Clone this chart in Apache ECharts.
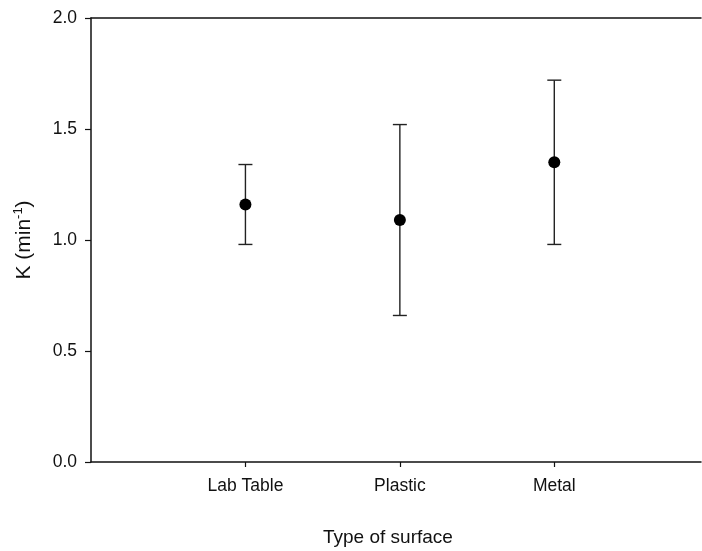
<!DOCTYPE html>
<html>
<head>
<meta charset="utf-8">
<script src="https://cdn.jsdelivr.net/npm/echarts@6/dist/echarts.min.js"></script>
<style>
  html, body { margin: 0; padding: 0; background: #fff; }
  #chart { width: 702px; height: 551px; }
</style>
</head>
<body>
<div id="chart"></div>
<script>
// Rate constant K by surface type: mean with lower / upper error limits
const categories = ['Lab Table', 'Plastic', 'Metal'];
const positions = [1, 2, 3];
const meanK = [1.16, 1.09, 1.35];
const lowK = [0.98, 0.66, 0.98];
const highK = [1.34, 1.52, 1.72];
const yTicks = [0, 0.5, 1.0, 1.5, 2.0];

const FONT = '"Liberation Sans", Arial, sans-serif';
const AXIS_COLOR = '#111';

const scatterData = positions.map((x, i) => [x, meanK[i]]);
const errorData = positions.map((x, i) => [x, lowK[i], highK[i]]);

const xRange = { min: 0, max: 3.95, interval: 1 };

const chart = echarts.init(document.getElementById('chart'));

chart.setOption({
  animation: false,
  backgroundColor: '#fff',
  grid: { left: 91, top: 18, right: 1, height: 444 },
  xAxis: [
    {
      type: 'value',
      position: 'bottom',
      ...xRange,
      axisLine: { show: true, lineStyle: { color: AXIS_COLOR, width: 1.5 } },
      axisTick: { show: true, length: 5, lineStyle: { color: AXIS_COLOR, width: 1.2 } },
      splitLine: { show: false },
      axisLabel: {
        fontFamily: FONT, fontSize: 17.5, color: AXIS_COLOR, margin: 15,
        showMinLabel: false, showMaxLabel: false,
        formatter: v => {
          const i = positions.indexOf(v);
          return i >= 0 ? categories[i] : '';
        }
      }
    },
    {
      // plain frame line along the top edge
      type: 'value',
      position: 'top',
      ...xRange,
      axisLine: { show: true, onZero: false, lineStyle: { color: AXIS_COLOR, width: 1.5 } },
      axisTick: { show: false },
      axisLabel: { show: false },
      splitLine: { show: false }
    }
  ],
  yAxis: {
    type: 'value',
    min: yTicks[0], max: yTicks[yTicks.length - 1], interval: 0.5,
    axisLine: { show: true, lineStyle: { color: AXIS_COLOR, width: 1.5 } },
    axisTick: { show: true, length: 6, lineStyle: { color: AXIS_COLOR, width: 1.2 } },
    splitLine: { show: false },
    axisLabel: {
      fontFamily: FONT, fontSize: 17.5, color: AXIS_COLOR, margin: 14,
      formatter: v => v.toFixed(1)
    },
    name: '{t|K (min}{s|-1}{t|)}',
    nameLocation: 'middle',
    nameGap: 55,
    nameRotate: 90,
    nameTextStyle: {
      rich: {
        t: { fontFamily: FONT, fontSize: 21, color: AXIS_COLOR },
        s: { fontFamily: FONT, fontSize: 13, color: AXIS_COLOR, verticalAlign: 'top', padding: [0, 0, 11, 0] }
      }
    }
  },
  graphic: [{
    type: 'text',
    left: 323, top: 528,
    style: { text: 'Type of surface', fontFamily: FONT, fontSize: 19, fill: AXIS_COLOR }
  }],
  series: [
    {
      type: 'custom',
      xAxisIndex: 0,
      data: errorData,
      encode: { x: 0, y: [1, 2] },
      renderItem: (params, api) => {
        const x = api.value(0);
        const lo = api.coord([x, api.value(1)]);
        const hi = api.coord([x, api.value(2)]);
        const half = 7;
        const style = { stroke: '#222', lineWidth: 1.4 };
        return {
          type: 'group',
          children: [
            { type: 'line', shape: { x1: lo[0], y1: lo[1], x2: hi[0], y2: hi[1] }, style },
            { type: 'line', shape: { x1: hi[0] - half, y1: hi[1], x2: hi[0] + half, y2: hi[1] }, style },
            { type: 'line', shape: { x1: lo[0] - half, y1: lo[1], x2: lo[0] + half, y2: lo[1] }, style }
          ]
        };
      },
      z: 2
    },
    {
      type: 'scatter',
      xAxisIndex: 0,
      data: scatterData,
      symbol: 'circle',
      symbolSize: 12,
      itemStyle: { color: '#000', opacity: 1 },
      z: 3
    }
  ]
});
</script>
</body>
</html>
